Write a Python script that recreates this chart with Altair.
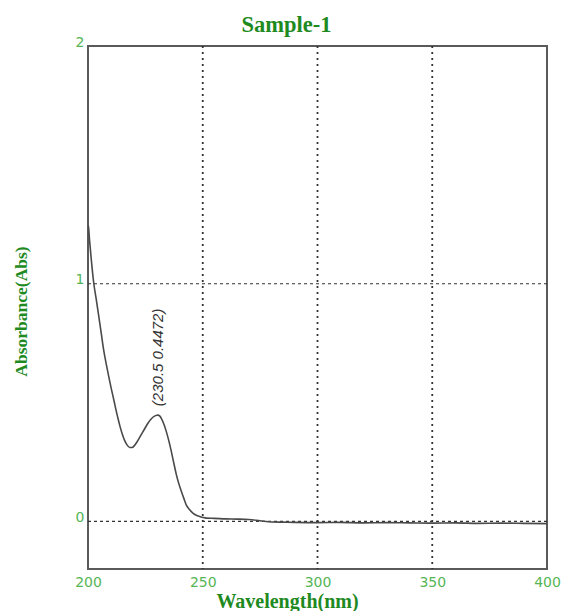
import altair as alt
import pandas as pd

# UV-Vis absorbance spectrum of Sample-1
wavelength = [200, 200.2, 200.7, 201.5, 202.5, 203.5, 204.7, 205.8, 206.8, 208, 209, 210,
              211, 212, 213, 214, 215, 216, 217, 218.2, 219.2, 220.3, 221.7, 223.2, 224.7,
              226.1, 227.5, 229, 230, 230.5, 231.2, 232, 233, 234.1, 235.2, 236.3, 237.4,
              238.5, 239.6, 240.7, 241.8, 242.8, 244.2, 245.7, 247.2, 248.6, 250, 251.5,
              255, 260, 265, 270, 275, 280, 285, 290, 300, 310, 320, 330, 340, 350, 360,
              370, 380, 390, 400]
absorbance = [1.245, 1.24, 1.18, 1.095, 1.003, 0.94, 0.863, 0.79, 0.723, 0.66, 0.611, 0.565,
              0.522, 0.478, 0.436, 0.398, 0.366, 0.34, 0.322, 0.311, 0.311, 0.32, 0.34, 0.365,
              0.39, 0.413, 0.431, 0.443, 0.4465, 0.4472, 0.444, 0.433, 0.411, 0.379, 0.34,
              0.295, 0.245, 0.197, 0.158, 0.126, 0.096, 0.070, 0.05, 0.035, 0.026, 0.021,
              0.017, 0.014, 0.013, 0.011, 0.010, 0.008, 0.003, -0.002, -0.003, -0.004,
              -0.005, -0.004, -0.006, -0.005, -0.006, -0.007, -0.006, -0.008, -0.007,
              -0.008, -0.009]

peak_wl = 230.5
peak_abs = 0.4472

x_ticks = [200, 250, 300, 350, 400]
y_ticks = [0, 1, 2]
grid_x = [250, 300, 350]
grid_y = [0, 1]

spectrum = pd.DataFrame({"wl": wavelength, "abs": absorbance})
peak = pd.DataFrame({"wl": [peak_wl], "abs": [peak_abs],
                     "label": [f"({peak_wl} {peak_abs})"]})

TICK_GREEN = "#55b555"
TITLE_GREEN = "#1f8a1f"

x_scale = alt.Scale(domain=[200, 400], nice=False, zero=False)
y_scale = alt.Scale(domain=[-0.2, 2], nice=False, zero=False)

x_axis = alt.Axis(
    values=x_ticks, grid=False, domain=False, ticks=False, labelPadding=6,
    labelFont="DejaVu Sans", labelFontSize=14, labelColor=TICK_GREEN,
    title="Wavelength(nm)", titleFont="Liberation Serif", titleFontSize=20,
    titleFontWeight="bold", titleColor=TITLE_GREEN, titleX=199, titleY=38,
    titleAlign="center", titleBaseline="alphabetic", labelFlush=False,
)
y_axis = alt.Axis(
    values=y_ticks, grid=False, domain=False, ticks=False, labelPadding=4,
    labelBaseline="alphabetic", labelFont="DejaVu Sans", labelFontSize=14,
    labelColor=TICK_GREEN, labelFlush=False,
    title="Absorbance(Abs)", titleFont="Liberation Serif", titleFontSize=17.5,
    titleFontWeight="bold", titleColor=TITLE_GREEN, titleX=-62, titleY=265,
    titleAngle=270, titleAlign="center", titleBaseline="alphabetic",
)

# dotted vertical and dashed horizontal grid lines
vgrid = alt.Chart(pd.DataFrame({"g": grid_x})).mark_rule(
    color="#333333", strokeDash=[2, 4], strokeWidth=1.8
).encode(x=alt.X("g:Q", scale=x_scale, axis=x_axis))

hgrid = alt.Chart(pd.DataFrame({"g": grid_y})).mark_rule(
    color="#333333", strokeDash=[3, 3], strokeWidth=1.2
).encode(y=alt.Y("g:Q", scale=y_scale, axis=y_axis))

curve = alt.Chart(spectrum).mark_line(
    color="#4a4a4a", strokeWidth=1.6, interpolate="monotone", clip=True
).encode(
    x=alt.X("wl:Q", scale=x_scale, axis=x_axis),
    y=alt.Y("abs:Q", scale=y_scale, axis=y_axis),
)

label = alt.Chart(peak).mark_text(
    angle=270, align="left", baseline="middle", dx=9,
    font="Liberation Sans", fontStyle="italic", fontSize=15, color="#333333"
).encode(
    x=alt.X("wl:Q", scale=x_scale, axis=x_axis),
    y=alt.Y("abs:Q", scale=y_scale, axis=y_axis),
    text="label:N",
)

chart = alt.layer(vgrid, hgrid, curve, label).properties(
    width=459, height=523,
    title=alt.Title("Sample-1", font="Liberation Serif", fontSize=22.5, fontWeight="bold",
                    color=TITLE_GREEN, anchor="middle", dx=-31, offset=-19,
                    baseline="alphabetic"),
    autosize=alt.AutoSizeParams(type="none"),
    padding={"left": 88, "top": 46, "right": 15, "bottom": 42},
    background="white",
).configure_view(stroke="#5a5a5a", strokeWidth=2)

chart.save("out.html", embed_options={"renderer": "svg", "actions": False})
